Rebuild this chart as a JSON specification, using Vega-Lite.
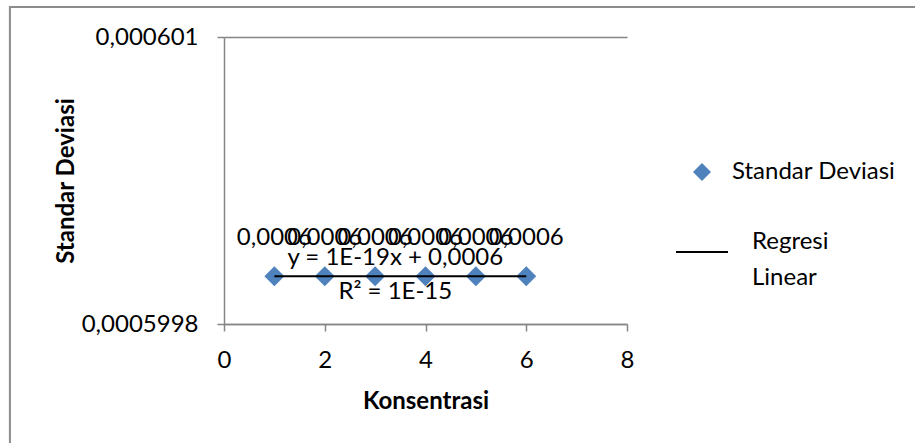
{
  "$schema": "https://vega.github.io/schema/vega-lite/v6.json",
  "width": 403,
  "height": 287,
  "autosize": {"type": "none"},
  "padding": {"left": 224, "top": 37, "right": 288, "bottom": 119},
  "background": "white",
  "config": {
    "font": "Lato",
    "locale": {
      "number": {"decimal": ",", "thousands": ".", "grouping": [3], "currency": ["", " €"]}
    },
    "view": {"stroke": null},
    "axis": {
      "domainColor": "#868686",
      "domainWidth": 1.5,
      "tickColor": "#868686",
      "tickWidth": 1.5,
      "tickSize": 7,
      "labelFontSize": 24,
      "labelColor": "#000000",
      "labelFlush": false,
      "titleFontSize": 24,
      "titleColor": "#000000",
      "titleFontWeight": "bold",
      "gridColor": "#868686",
      "gridWidth": 1.5
    },
    "legend": {
      "labelFontSize": 24,
      "labelColor": "#000000",
      "labelFont": "Lato",
      "labelLimit": 400
    }
  },
  "data": {
    "values": [
      {"konsentrasi": 1, "sd": 0.0006},
      {"konsentrasi": 2, "sd": 0.0006},
      {"konsentrasi": 3, "sd": 0.0006},
      {"konsentrasi": 4, "sd": 0.0006},
      {"konsentrasi": 5, "sd": 0.0006},
      {"konsentrasi": 6, "sd": 0.0006}
    ]
  },
  "layer": [
    {
      "data": {"values": [{}]},
      "mark": {"type": "rect", "fill": "transparent", "stroke": "#8c8c8c", "strokeWidth": 2, "clip": false},
      "encoding": {
        "x": {"datum": -4.25, "type": "quantitative"},
        "x2": {"datum": 20},
        "y": {"datum": 0.0006011254, "type": "quantitative"},
        "y2": {"datum": 0.000599}
      }
    },
    {
      "mark": {"type": "point", "shape": "diamond", "filled": true, "size": 400, "opacity": 1},
      "encoding": {
        "x": {
          "field": "konsentrasi",
          "type": "quantitative",
          "scale": {"domain": [0, 8], "nice": false, "zero": false},
          "axis": {
            "values": [0, 2, 4, 6, 8],
            "grid": false,
            "labelPadding": 17,
            "title": "Konsentrasi",
            "titleX": 201.5,
            "titleY": 84,
            "titleBaseline": "alphabetic",
            "titleAlign": "center"
          }
        },
        "y": {
          "field": "sd",
          "type": "quantitative",
          "scale": {"domain": [0.0005998, 0.000601], "nice": false, "zero": false},
          "axis": {
            "values": [0.0005998, 0.000601],
            "format": ".7~f",
            "grid": true,
            "labelPadding": 19,
            "title": "Standar Deviasi",
            "titleAngle": -90,
            "titleX": -151,
            "titleY": 143.5,
            "titleBaseline": "alphabetic",
            "titleAlign": "center"
          }
        },
        "color": {
          "datum": "Standar Deviasi",
          "type": "nominal",
          "scale": {"range": ["#4F81BD"]},
          "legend": {
            "orient": "none",
            "legendX": 466,
            "legendY": 123,
            "title": null,
            "symbolType": "diamond",
            "symbolSize": 324,
            "symbolStrokeWidth": 0,
            "labelOffset": 18
          }
        }
      }
    },
    {
      "transform": [{"regression": "sd", "on": "konsentrasi"}],
      "mark": {"type": "line", "color": "#000000", "strokeWidth": 2},
      "encoding": {
        "x": {"field": "konsentrasi", "type": "quantitative"},
        "y": {"field": "sd", "type": "quantitative"},
        "strokeDash": {
          "datum": "Regresi Linear",
          "type": "nominal",
          "scale": {"range": [[1, 0]]},
          "legend": {
            "orient": "none",
            "legendX": 451,
            "legendY": 188,
            "title": null,
            "symbolType": "stroke",
            "symbolSize": 2704,
            "symbolStrokeColor": "#000000",
            "symbolStrokeWidth": 2,
            "labelOffset": 23,
            "labelExpr": "['Regresi', 'Linear']",
            "encode": {
              "labels": {"update": {"lineHeight": {"value": 36}, "dy": {"value": -10}}}
            }
          }
        }
      }
    },
    {
      "mark": {"type": "text", "dy": -38, "fontSize": 24, "color": "#000000"},
      "encoding": {
        "x": {"field": "konsentrasi", "type": "quantitative"},
        "y": {"field": "sd", "type": "quantitative"},
        "text": {"field": "sd", "type": "quantitative", "format": ".4~f"}
      }
    },
    {
      "data": {"values": [{}]},
      "mark": {"type": "text", "dy": -18, "fontSize": 24, "color": "#000000", "text": "y = 1E-19x + 0,0006"},
      "encoding": {
        "x": {"datum": 3.4, "type": "quantitative"},
        "y": {"datum": 0.0006, "type": "quantitative"}
      }
    },
    {
      "data": {"values": [{}]},
      "mark": {"type": "text", "dy": 16, "fontSize": 24, "color": "#000000", "text": "R² = 1E-15"},
      "encoding": {
        "x": {"datum": 3.4, "type": "quantitative"},
        "y": {"datum": 0.0006, "type": "quantitative"}
      }
    }
  ]
}
